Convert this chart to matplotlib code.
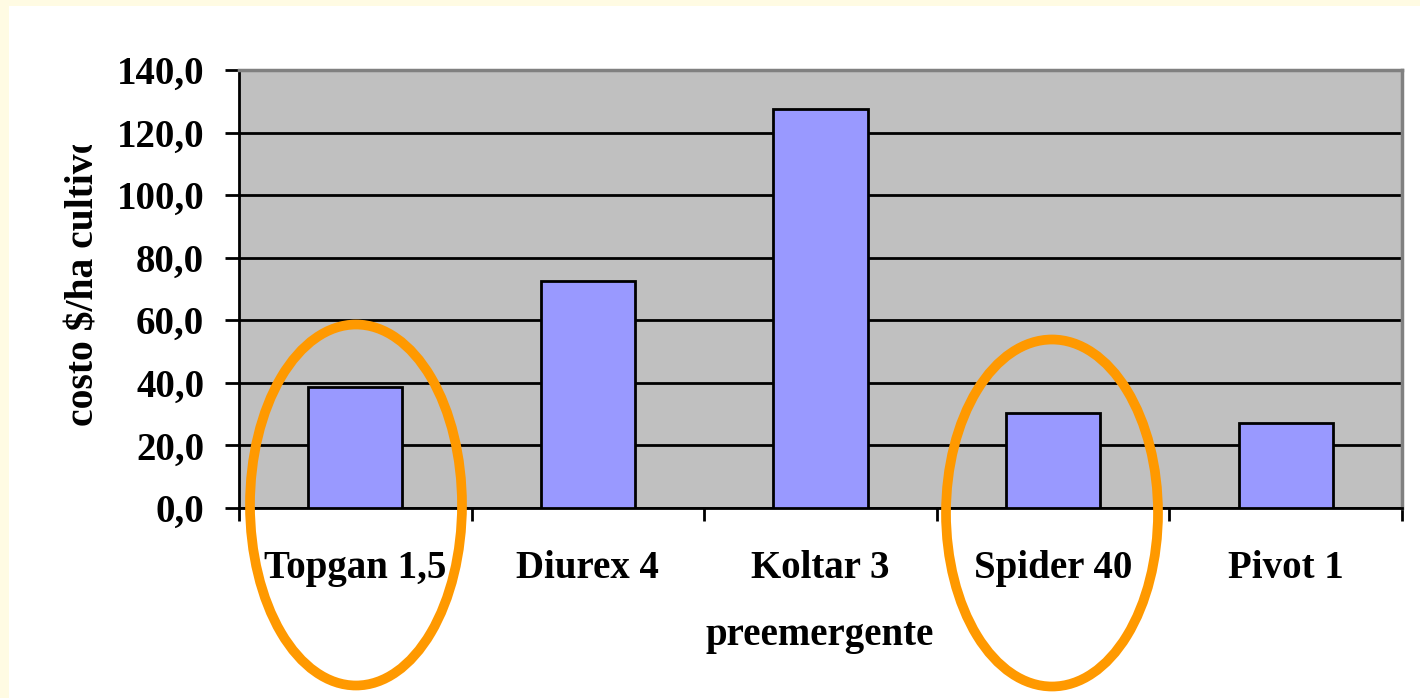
import matplotlib
matplotlib.use("Agg")
import matplotlib.pyplot as plt
from matplotlib.patches import Ellipse, Rectangle
from matplotlib.transforms import Bbox, TransformedBbox

# Daten
produkte = ["Topgan 1,5", "Diurex 4", "Koltar 3", "Spider 40", "Pivot 1"]
kosten = [38.7, 72.6, 127.6, 30.4, 27.3]
y_ticks = [0, 20, 40, 60, 80, 100, 120, 140]
y_tick_labels = ["0,0", "20,0", "40,0", "60,0", "80,0", "100,0", "120,0", "140,0"]
markiert = ["Topgan 1,5", "Spider 40"]

W, H = 1420, 698
plt.rcParams["font.family"] = ["Liberation Serif", "DejaVu Serif"]
plt.rcParams["font.weight"] = "bold"

fig = plt.figure(figsize=(W / 100, H / 100), dpi=100, facecolor="#FFFBE3")

# weisser Hintergrund
fig.patches.append(Rectangle((9 / W, 0), 1 - 9 / W, 1 - 6 / H, transform=fig.transFigure,
                             facecolor="white", edgecolor="none", zorder=-10))

ax = fig.add_axes([239 / W, (H - 508) / H, 1163 / W, 438 / H])
ax.set_facecolor("#C0C0C0")

x = list(range(len(produkte)))
ax.bar(x, kosten, width=0.405, color="#9999FF", edgecolor="black", linewidth=2, zorder=3)

ax.set_xlim(-0.5, len(produkte) - 0.5)
ax.set_ylim(0, 140)
ax.set_yticks(y_ticks, y_tick_labels)
ax.yaxis.grid(True, color="black", linewidth=2, zorder=1)
ax.set_axisbelow(True)

# x-Ticks an den Kategoriegrenzen, Labels in der Mitte
ax.set_xticks([i - 0.5 for i in range(len(produkte) + 1)])
ax.set_xticklabels([])
ax.set_xticks(x, produkte, minor=True)
ax.tick_params(axis="x", which="major", direction="out", length=9, width=2)
ax.tick_params(axis="x", which="minor", length=0, pad=30, labelsize=28)
ax.tick_params(axis="y", direction="out", length=10, width=2, pad=15, labelsize=28)

for s in ["left", "bottom"]:
    ax.spines[s].set_linewidth(2)
    ax.spines[s].set_color("black")
for s in ["top", "right"]:
    ax.spines[s].set_linewidth(2.5)
    ax.spines[s].set_color("#808080")

fig.text(820 / W, (H - 645) / H, "preemergente", ha="center", va="baseline", fontsize=28)

ylab = fig.text(84 / W, (H - 280) / H, "costo $/ha cultivo", rotation=90,
                ha="center", va="center", fontsize=28.5)
ylab.set_clip_box(TransformedBbox(Bbox([[0, 0], [1, (H - 145) / H]]), fig.transFigure))
ylab.set_clip_on(True)

# Markierungen
ellipsen = {"Topgan 1,5": (356, 505, 212, 361), "Spider 40": (1052, 513, 212, 347)}
for name in markiert:
    cx, cy, ew, eh = ellipsen[name]
    fig.patches.append(Ellipse((cx / W, (H - cy) / H), ew / W, eh / H, transform=fig.transFigure,
                               fill=False, edgecolor="#FF9900", linewidth=7, zorder=5))

fig.savefig("out.png", dpi=100, facecolor=fig.get_facecolor())
